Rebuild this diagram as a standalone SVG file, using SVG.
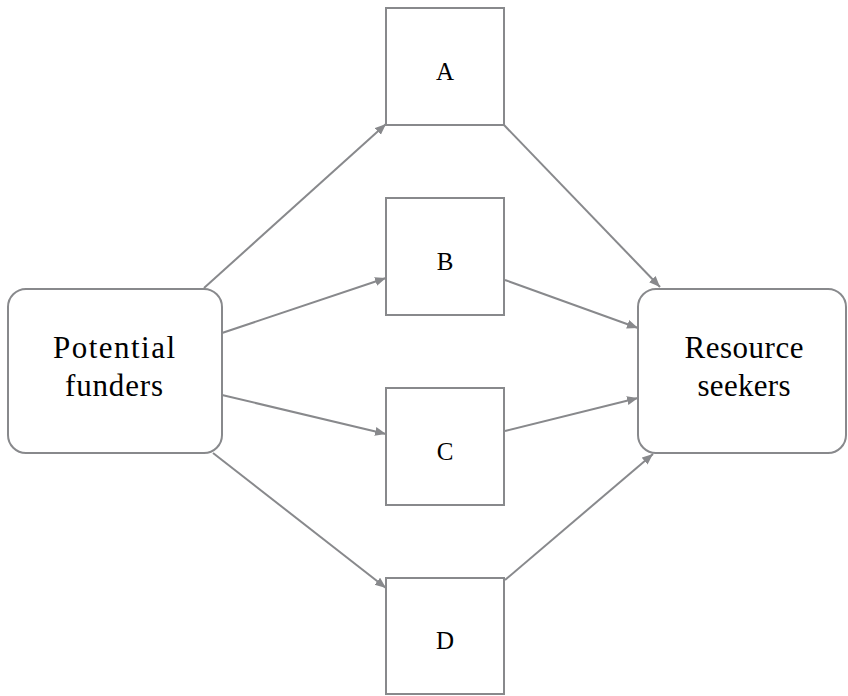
<svg xmlns="http://www.w3.org/2000/svg" width="848" height="696" viewBox="0 0 848 696">
<style>
.box{fill:#fff;stroke:#88898c;stroke-width:2}
.lbl{font-family:"Liberation Serif","Times New Roman",serif;fill:#000;text-anchor:middle}
.big{font-size:31px}
.small{font-size:25px}
.edge{stroke:#88898c;stroke-width:2;fill:none;marker-end:url(#ah)}
</style>
<defs>
<marker id="ah" markerUnits="userSpaceOnUse" markerWidth="12" markerHeight="10" refX="11" refY="4.5" orient="auto">
<path d="M0,0 L11,4.5 L0,9 Z" fill="#88898c"/>
</marker>
</defs>
<rect width="848" height="696" fill="#fff"/>
<g id="connectors">
<line class="edge" x1="204" y1="288" x2="386" y2="124"/>
<line class="edge" x1="222" y1="333" x2="386" y2="278"/>
<line class="edge" x1="222" y1="395" x2="386" y2="434"/>
<line class="edge" x1="213" y1="453" x2="386" y2="588"/>
<line class="edge" x1="504" y1="125" x2="660" y2="287"/>
<line class="edge" x1="505" y1="280" x2="638" y2="328"/>
<line class="edge" x1="505" y1="431" x2="638" y2="398"/>
<line class="edge" x1="505" y1="580" x2="653" y2="454"/>
</g>
<g id="funders">
<rect class="box" x="8" y="289" width="214" height="164" rx="18" ry="18"/>
<text class="lbl big" x="114" y="358" textLength="122" lengthAdjust="spacing">Potential</text>
<text class="lbl big" x="114" y="396" textLength="98" lengthAdjust="spacing">funders</text>
</g>
<g id="seekers">
<rect class="box" x="638" y="289" width="208" height="164" rx="18" ry="18"/>
<text class="lbl big" x="744" y="358" textLength="119" lengthAdjust="spacing">Resource</text>
<text class="lbl big" x="744" y="396" textLength="93" lengthAdjust="spacing">seekers</text>
</g>
<g id="A">
<rect class="box" x="386" y="8" width="118" height="117"/>
<text class="lbl small" x="445" y="80">A</text>
</g>
<g id="B">
<rect class="box" x="386" y="198" width="118" height="117"/>
<text class="lbl small" x="445" y="270">B</text>
</g>
<g id="C">
<rect class="box" x="386" y="388" width="118" height="117"/>
<text class="lbl small" x="445" y="460">C</text>
</g>
<g id="D">
<rect class="box" x="386" y="578" width="118" height="116"/>
<text class="lbl small" x="445" y="649">D</text>
</g>
</svg>
